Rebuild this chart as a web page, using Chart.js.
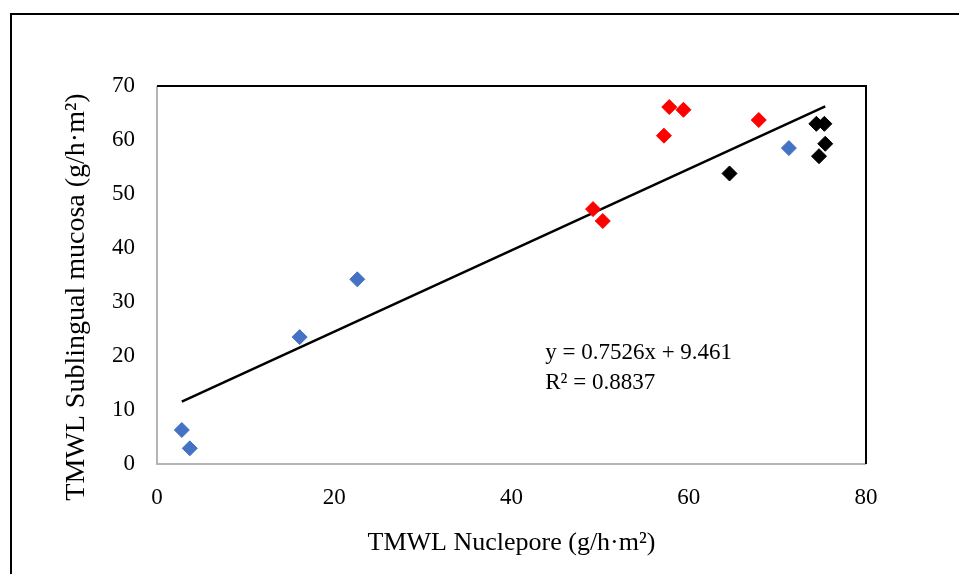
<!doctype html>
<html lang="en">
  <head>
    <meta charset="utf-8">
    <title>TMWL Nuclepore vs Sublingual mucosa</title>
    <style>
      * { margin: 0; padding: 0; }
      body { background: #fff; width: 959px; height: 574px; overflow: hidden; }
      .chartBox { position: absolute; left: 0; top: 0; width: 959px; height: 574px; }
    </style>
  </head>
  <body>
    <div class="chartBox">
      <canvas id="myChart" width="959" height="574"></canvas>
    </div>
    <script src="https://cdn.jsdelivr.net/npm/chart.js"></script>
    <script>
      // data (x = Nuclepore, y = sublingual mucosa)
      const blueX = [2.8, 3.7, 16.1, 22.6, 71.3];
      const blueY = [6.3, 2.9, 23.5, 34.2, 58.5];
      const redX = [49.2, 50.3, 57.2, 57.8, 59.4, 67.9];
      const redY = [47.2, 45.0, 60.8, 66.1, 65.6, 63.7];
      const blackX = [64.6, 74.4, 75.3, 75.4, 74.7];
      const blackY = [53.8, 63.0, 63.0, 59.3, 57.0];

      // linear trendline as printed on the chart
      const slope = 0.7526;
      const intercept = 9.461;
      const eqLines = ['y = 0.7526x + 9.461', 'R² = 0.8837'];

      const xTicks = [0, 20, 40, 60, 80];
      const yTicks = [0, 10, 20, 30, 40, 50, 60, 70];
      const yTitle = 'TMWL Sublingual mucosa (g/h·m²)';

      const toPts = (xs, ys) => xs.map((x, i) => ({ x: x, y: ys[i] }));
      const allX = blueX.concat(redX, blackX);
      const xMin = Math.min(...allX);
      const xMax = Math.max(...allX);
      const trend = [xMin, xMax].map(x => ({ x: x, y: slope * x + intercept }));

      const serif = "'Liberation Serif', 'DejaVu Serif', serif";

      const marker = color => ({
        type: 'scatter',
        backgroundColor: color,
        borderColor: color,
        pointStyle: 'rectRot',
        pointRadius: 7.5,
        pointBorderWidth: 1
      });

      // outer frame + plot border (top/right black, left/bottom grey) + equation text
      const decor = {
        id: 'decor',
        beforeDraw(chart) {
          const ctx = chart.ctx;
          ctx.save();
          ctx.fillStyle = '#fff';
          ctx.fillRect(0, 0, chart.width, chart.height);
          ctx.strokeStyle = '#000';
          ctx.lineWidth = 2;
          ctx.beginPath();
          ctx.moveTo(11, chart.height);
          ctx.lineTo(11, 14);
          ctx.lineTo(chart.width, 14);
          ctx.stroke();
          // y axis title, sits a bit lower than the plot centre
          ctx.translate(77, 297);
          ctx.rotate(-Math.PI / 2);
          ctx.fillStyle = '#000';
          ctx.font = '28px ' + serif;
          ctx.textAlign = 'center';
          ctx.textBaseline = 'middle';
          ctx.fillText(yTitle, 0, 0);
          ctx.restore();
        },
        afterDatasetsDraw(chart) {
          const ctx = chart.ctx;
          const a = chart.chartArea;
          ctx.save();
          ctx.lineWidth = 2;
          ctx.strokeStyle = '#b4b4b4';
          ctx.beginPath();
          ctx.moveTo(a.left, a.top);
          ctx.lineTo(a.left, a.bottom);
          ctx.lineTo(a.right, a.bottom);
          ctx.stroke();
          ctx.strokeStyle = '#000';
          ctx.beginPath();
          ctx.moveTo(a.left, a.top);
          ctx.lineTo(a.right, a.top);
          ctx.lineTo(a.right, a.bottom);
          ctx.stroke();
          ctx.fillStyle = '#000';
          ctx.font = '23px ' + serif;
          ctx.textBaseline = 'middle';
          const xs = chart.scales.x, ys = chart.scales.y;
          const tx = xs.getPixelForValue(43.8);
          ctx.fillText(eqLines[0], tx, ys.getPixelForValue(20.5));
          ctx.fillText(eqLines[1], tx, ys.getPixelForValue(15.1));
          ctx.restore();
        }
      };

      const data = {
        datasets: [
          Object.assign({ label: 'blue', data: toPts(blueX, blueY) }, marker('#4472c4')),
          Object.assign({ label: 'red', data: toPts(redX, redY) }, marker('#ff0000')),
          Object.assign({ label: 'black', data: toPts(blackX, blackY) }, marker('#000000')),
          {
            type: 'line',
            label: 'trend',
            data: trend,
            borderColor: '#000',
            borderWidth: 2.5,
            pointRadius: 0,
            fill: false
          }
        ]
      };

      const config = {
        type: 'scatter',
        data,
        plugins: [decor],
        options: {
          responsive: false,
          animation: false,
          layout: { padding: { left: 0, right: 93, top: 86, bottom: 0 } },
          plugins: { legend: { display: false }, tooltip: { enabled: false } },
          scales: {
            x: {
              type: 'linear',
              min: 0,
              max: 80,
              afterBuildTicks: s => { s.ticks = xTicks.map(v => ({ value: v })); },
              afterFit: s => { s.height = 110; },
              grid: { display: false, drawTicks: false },
              border: { display: false },
              ticks: { color: '#000', padding: 20, font: { family: serif, size: 23 } },
              title: {
                display: true,
                text: 'TMWL Nuclepore (g/h·m²)',
                color: '#000',
                font: { family: serif, size: 26 },
                padding: { top: 0, bottom: 15 }
              }
            },
            y: {
              type: 'linear',
              min: 0,
              max: 70,
              afterBuildTicks: s => { s.ticks = yTicks.map(v => ({ value: v })); },
              afterFit: s => { s.width = 157; },
              grid: { display: false, drawTicks: false },
              border: { display: false },
              ticks: { color: '#000', padding: 22, font: { family: serif, size: 23 } },
              title: { display: false }
            }
          }
        }
      };

      const myChart = new Chart(document.getElementById('myChart'), config);
    </script>
  </body>
</html>
